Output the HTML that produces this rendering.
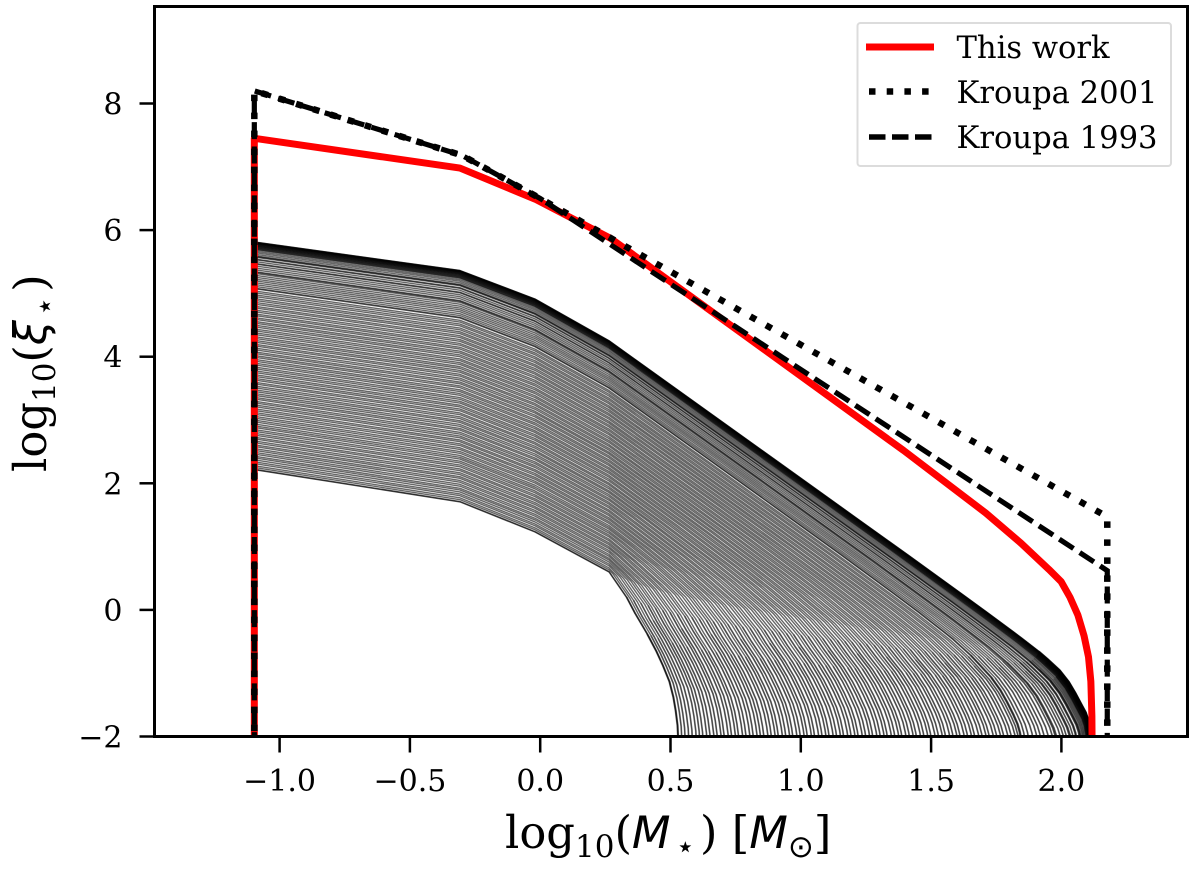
<!DOCTYPE html>
<html lang="en">
<head>
<meta charset="utf-8">
<title>IMF chart</title>
<style>
html,body{margin:0;padding:0;background:#fff;width:1200px;height:870px;overflow:hidden}
svg{display:block}
text{font-family:"DejaVu Serif","Liberation Serif",serif;fill:#000}
.math{font-family:"DejaVu Sans","Liberation Sans",sans-serif;font-style:italic}
.sym{font-family:"DejaVu Sans","Liberation Sans",sans-serif;font-style:normal}
</style>
</head>
<body>
<svg id="chart" xmlns="http://www.w3.org/2000/svg" width="1200" height="870" viewBox="0 0 1200 870">
  <defs><clipPath id="plot-clip"><rect x="154.5" y="6.5" width="1033" height="730"/></clipPath></defs>
  <rect x="0" y="0" width="1200" height="870" fill="#fff"/>
  <g id="grey-lines" clip-path="url(#plot-clip)" fill="none" stroke="#000" stroke-opacity="0.6" stroke-width="1.4" stroke-linejoin="round"></g>
  <g id="main-lines" clip-path="url(#plot-clip)" fill="none"></g>
  <g id="x-ticks"></g>
  <g id="y-ticks"></g>
  <rect x="154.5" y="6.5" width="1033" height="730" fill="none" stroke="#000" stroke-width="3"/>

  <text x="505" y="848" font-size="44.8">log<tspan font-size="31" dy="9">10</tspan><tspan dy="-9">(</tspan><tspan class="math">M</tspan><tspan class="sym" font-size="31" dx="5" dy="9">⋆</tspan><tspan dx="5" dy="-9">) [</tspan><tspan class="math">M</tspan><tspan class="sym" font-size="31" dy="9">⊙</tspan><tspan dy="-9">]</tspan></text>
  <text transform="translate(46,472) rotate(-90)" x="0" y="0" font-size="44.8">log<tspan font-size="31" dy="9">10</tspan><tspan dy="-9">(</tspan><tspan class="math">ξ</tspan><tspan class="sym" font-size="31" dx="4" dy="9">⋆</tspan><tspan dx="5" dy="-9">)</tspan></text>

  <g>
    <rect x="857.5" y="23" width="313.5" height="143" rx="3" fill="#fff" fill-opacity="0.8" stroke="#dcdcdc" stroke-width="2"/>
    <line x1="866" y1="47" x2="934" y2="47" stroke="#f00" stroke-width="7"/>
    <line x1="869" y1="91.5" x2="931" y2="91.5" stroke="#000" stroke-width="6.5" stroke-dasharray="6.5 11.2"/>
    <line x1="869" y1="137" x2="932" y2="137" stroke="#000" stroke-width="5.5" stroke-dasharray="16.5 6.5"/>
    <text x="956.5" y="58" font-size="30.6">This work</text>
    <text x="956.5" y="103" font-size="30.6">Kroupa 2001</text>
    <text x="956.5" y="148" font-size="30.6">Kroupa 1993</text>
  </g>
</svg>
<script>
// ---- data ----
const xTickValues = [-1.0, -0.5, 0.0, 0.5, 1.0, 1.5, 2.0];
const xTickLabels = ['\u22121.0', '\u22120.5', '0.0', '0.5', '1.0', '1.5', '2.0'];
const yTickValues = [-2, 0, 2, 4, 6, 8];
const yTickLabels = ['\u22122', '0', '2', '4', '6', '8'];

// This work
const redMass = [-1.097, -1.097, -0.308, -0.02, 0.27, 1.394, 1.71, 1.846, 1.952, 1.999, 2.033, 2.063, 2.087, 2.104, 2.113, 2.117, 2.118];
const redXi = [-2.2, 7.45, 6.98, 6.49, 5.87, 2.52, 1.53, 1.05, 0.64, 0.447, 0.199, -0.079, -0.41, -0.743, -1.13, -1.68, -2.2];
// Kroupa 2001
const k01Mass = [-1.097, -1.097, -0.3, 0.0, 2.176, 2.176];
const k01Xi = [-2.2, 8.2, 7.18, 6.5, 1.47, -2.2];
// Kroupa 1993
const k93Mass = [-1.097, -1.097, -0.3, 0.0, 2.176, 2.176];
const k93Xi = [-2.2, 8.2, 7.18, 6.5, 0.62, -2.2];

// Family of truncated IMFs: value at the low-mass end, and the mass where each line plunges
const lineNorm = [
2.216,2.222,2.251,2.279,2.312,2.339,2.371,2.402,2.428,2.461,2.489,
2.522,2.549,2.582,2.608,2.641,2.669,2.702,2.728,2.762,2.789,
2.821,2.849,2.882,2.909,2.938,2.972,2.999,3.031,3.058,3.092,
3.119,3.152,3.178,3.212,3.239,3.271,3.298,3.332,3.358,3.391,
3.419,3.452,3.478,3.511,3.539,3.572,3.598,3.632,3.659,3.691,
3.718,3.752,3.779,3.811,3.838,3.872,3.899,3.931,3.958,3.992,
4.019,4.052,4.078,4.111,4.139,4.172,4.198,4.232,4.259,4.291,
4.318,4.352,4.379,4.411,4.438,4.472,4.499,4.531,4.558,4.592,
4.619,4.652,4.678,4.711,4.739,4.772,4.798,4.832,4.859,4.891,
4.918,4.952,4.979,5.011,5.038,
5.075,5.085,
5.112,5.141,5.172,5.201,5.229,5.258,5.288,5.318,
5.335,5.345,
5.375,5.405,5.435,
5.465,5.475,
5.505,
5.535,5.545,
5.575,5.585,5.595,
5.620,5.645,5.668,5.690,5.710,5.728,5.745,5.760,5.773,5.785,5.795,5.803,5.810,
5.700,5.720,5.737,5.752,5.766,5.779,5.790,5.799,5.806,5.812];
const lineCutoff = [
0.530,0.532,0.545,0.558,0.572,0.586,0.601,0.614,0.627,0.642,0.655,
0.670,0.683,0.698,0.710,0.726,0.739,0.754,0.766,0.782,0.795,
0.810,0.823,0.838,0.851,0.864,0.880,0.893,0.908,0.920,0.936,
0.949,0.964,0.976,0.992,1.005,1.020,1.032,1.048,1.060,1.076,
1.089,1.104,1.116,1.132,1.145,1.160,1.172,1.188,1.201,1.216,
1.228,1.244,1.257,1.272,1.284,1.300,1.313,1.328,1.340,1.356,
1.369,1.384,1.396,1.412,1.425,1.440,1.452,1.468,1.481,1.496,
1.508,1.524,1.537,1.552,1.564,1.580,1.593,1.608,1.620,1.636,
1.649,1.664,1.676,1.692,1.705,1.720,1.732,1.748,1.761,1.776,
1.788,1.804,1.817,1.832,1.843,
1.850,1.853,
1.866,1.881,1.898,1.914,1.928,1.943,1.959,1.975,
1.987,1.992,
2.006,2.018,2.029,
2.040,2.044,
2.053,
2.063,2.066,
2.076,2.079,2.082,
2.087,2.091,2.095,2.099,2.102,2.105,2.107,2.109,2.110,2.111,2.112,2.113,2.114,
2.100,2.104,2.106,2.108,2.110,2.111,2.112,2.113,2.114,2.114];

// Shared IMF shape: break masses, and drop below the low-mass end for the lowest / highest line
const breakMass = [-1.097, -0.308, -0.02, 0.264];
const breakDropLow = [0, 0.51, 0.985, 1.617];
const breakDropHigh = [0, 0.45, 0.90, 1.56];
const highMassSlope = 2.95;
// Roll-off near the cutoff: distance below cutoff, and drop for the lowest / highest line
const rollDist = [1.2, 0.9, 0.7, 0.5, 0.4, 0.3, 0.266, 0.2, 0.167, 0.12, 0.085, 0.06, 0.035, 0.02, 0.011, 0.004, 0];
const rollDropLow = [0, 0.02, 0.045, 0.10, 0.15, 0.24, 0.285, 0.485, 0.645, 0.835, 1.005, 1.155, 1.335, 1.535, 1.725, 1.935, 2.275];
const rollDropHigh = [0, 0, 0, 0.005, 0.01, 0.02, 0.025, 0.04, 0.06, 0.10, 0.18, 0.28, 0.40, 0.47, 0.55, 0.68, 1.0];

// ---- axis functions ----
const SVGNS = 'http://www.w3.org/2000/svg';
const tailReach = [0.12, 0.2, 0.16, 0.26, 0.14, 0.22, 0.18, 0.24];
function xScale(v) { return 540.2 + 260.6 * v; }
function yScale(v) { return 609.9 - 63.3 * v; }
function toPoints(xs, ys) {
  return xs.map(function (x, i) { return xScale(x).toFixed(2) + ',' + yScale(ys[i]).toFixed(2); }).join(' ');
}
function dropAt(d, t) {
  if (d >= rollDist[0]) { return 0; }
  for (let k = 1; k < rollDist.length; k++) {
    if (d >= rollDist[k]) {
      const f = (rollDist[k - 1] - d) / (rollDist[k - 1] - rollDist[k]);
      const low = rollDropLow[k - 1] + f * (rollDropLow[k] - rollDropLow[k - 1]);
      const high = rollDropHigh[k - 1] + f * (rollDropHigh[k] - rollDropHigh[k - 1]);
      return low * (1 - t) + high * t;
    }
  }
  return rollDropLow[rollDropLow.length - 1] * (1 - t) + rollDropHigh[rollDropHigh.length - 1] * t;
}

// ---- grey family ----
const greyGroup = document.getElementById('grey-lines');
const normMin = lineNorm[0];
const normMax = lineNorm[lineNorm.length - 1];
lineNorm.forEach(function (norm, i) {
  const cutoff = lineCutoff[i];
  const t = (norm - normMin) / (normMax - normMin);
  const xs = [breakMass[0]];
  const ys = [-2.2];
  breakMass.forEach(function (m, k) {
    xs.push(m);
    ys.push(norm - (breakDropLow[k] * (1 - t) + breakDropHigh[k] * t));
  });
  const lastM = breakMass[breakMass.length - 1];
  const lastY = ys[ys.length - 1];
  const startDrop = dropAt(cutoff - lastM, t);
  const reach = tailReach[i % tailReach.length];
  const tailX = [];
  const tailY = [];
  rollDist.forEach(function (d) {
    const m = cutoff - d;
    if (m <= lastM) { return; }
    const y = lastY - highMassSlope * (m - lastM) - (dropAt(d, t) - startDrop);
    xs.push(m);
    ys.push(y);
    if (d <= reach) {
      tailX.push(m);
      tailY.push(y);
    }
  });
  xs.push(cutoff);
  ys.push(-2.6);
  tailX.push(cutoff);
  tailY.push(-2.6);
  const line = document.createElementNS(SVGNS, 'polyline');
  line.setAttribute('points', toPoints(xs, ys));
  
  
  greyGroup.appendChild(line);
  const tail = document.createElementNS(SVGNS, 'polyline');
  tail.setAttribute('points', toPoints(tailX, tailY));
  tail.setAttribute('stroke-width', '1.9');
  tail.setAttribute('stroke-opacity', '0.28');
  
  
  greyGroup.appendChild(tail);
});

// ---- main lines ----
const mainGroup = document.getElementById('main-lines');
const redLine = document.createElementNS(SVGNS, 'polyline');
redLine.setAttribute('points', toPoints(redMass, redXi));
redLine.setAttribute('stroke', '#f00');
redLine.setAttribute('stroke-width', '7');
redLine.setAttribute('stroke-linejoin', 'round');


mainGroup.appendChild(redLine);

const k01Line = document.createElementNS(SVGNS, 'polyline');
k01Line.setAttribute('points', toPoints(k01Mass, k01Xi));
k01Line.setAttribute('stroke', '#000');
k01Line.setAttribute('stroke-width', '6.5');
k01Line.setAttribute('stroke-dasharray', '6.5 11.5');


mainGroup.appendChild(k01Line);

const k93Line = document.createElementNS(SVGNS, 'polyline');
k93Line.setAttribute('points', toPoints(k93Mass, k93Xi));
k93Line.setAttribute('stroke', '#000');
k93Line.setAttribute('stroke-width', '5.2');
k93Line.setAttribute('stroke-dasharray', '17 7.4');


mainGroup.appendChild(k93Line);

// ---- ticks ----
const xTickGroup = document.getElementById('x-ticks');
xTickValues.forEach(function (v, i) {
  const tick = document.createElementNS(SVGNS, 'line');
  tick.setAttribute('x1', xScale(v));
  tick.setAttribute('x2', xScale(v));
  tick.setAttribute('y1', 737);
  tick.setAttribute('y2', 752.5);
  tick.setAttribute('stroke', '#000');
  tick.setAttribute('stroke-width', '2.5');
  
  
  xTickGroup.appendChild(tick);
  const label = document.createElementNS(SVGNS, 'text');
  label.setAttribute('x', xScale(v));
  label.setAttribute('y', 791);
  label.setAttribute('font-size', '30');
  label.setAttribute('text-anchor', 'middle');
  
  
  label.textContent = xTickLabels[i];
  xTickGroup.appendChild(label);
});
const yTickGroup = document.getElementById('y-ticks');
yTickValues.forEach(function (v, i) {
  const tick = document.createElementNS(SVGNS, 'line');
  tick.setAttribute('x1', 139.5);
  tick.setAttribute('x2', 155);
  tick.setAttribute('y1', yScale(v));
  tick.setAttribute('y2', yScale(v));
  tick.setAttribute('stroke', '#000');
  tick.setAttribute('stroke-width', '2.5');
  
  
  yTickGroup.appendChild(tick);
  const label = document.createElementNS(SVGNS, 'text');
  label.setAttribute('x', 122.5);
  label.setAttribute('y', yScale(v) + 11);
  label.setAttribute('font-size', '30');
  label.setAttribute('text-anchor', 'end');
  
  
  label.textContent = yTickLabels[i];
  yTickGroup.appendChild(label);
});
</script>
</body>
</html>
